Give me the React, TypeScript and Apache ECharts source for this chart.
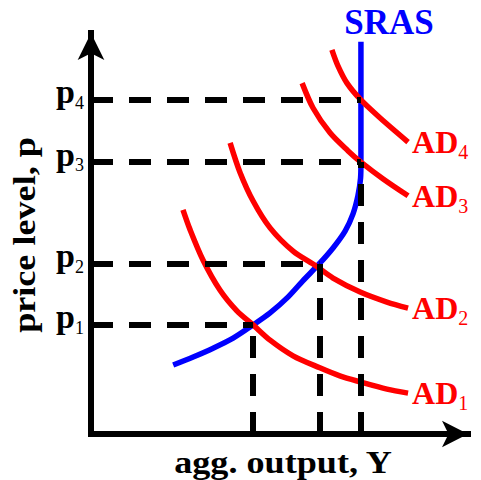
import React, { useEffect, useRef } from 'react';
import * as echarts from 'echarts';

const FONT = "Liberation Serif, Times New Roman, serif";
const RED = '#ff0000';
const BLUE = '#0000ff';

// Axis units: aggregate output (x) and price level (y), both 0–100
const srasX = [21.8, 27.1, 32.4, 37.7, 43.0, 47.5, 52.3, 56.2, 60.5, 64.2, 67.4, 69.5, 70.8, 71.5, 71.6, 71.6];
const srasY = [17.2, 19.2, 21.4, 23.9, 27.2, 30.2, 34.2, 38.2, 42.4, 46.4, 50.6, 54.9, 59.4, 63.8, 67.6, 97.8];

const ad1X = [24.4, 26.3, 29.7, 34.2, 38.7, 43.0, 47.5, 53.6, 60.7, 66.0, 71.4, 78.5, 84.1];
const ad1Y = [55.9, 50.9, 43.4, 35.9, 30.7, 27.2, 23.4, 19.5, 16.5, 14.5, 13.0, 11.2, 10.2];

const ad2X = [36.9, 39.5, 43.0, 47.5, 53.6, 59.7, 64.2, 71.4, 78.5, 84.1];
const ad2Y = [72.6, 65.3, 58.1, 51.4, 45.6, 41.9, 38.9, 35.4, 32.9, 31.4];

const ad3X = [56.0, 58.9, 63.4, 68.2, 71.6, 77.5, 84.1];
const ad3Y = [87.5, 81.3, 75.1, 70.6, 67.8, 63.6, 59.4];

const ad4X = [63.9, 65.5, 67.9, 71.6, 76.7, 84.1];
const ad4Y = [95.8, 91.8, 87.5, 83.3, 78.8, 72.8];

// Equilibria
const priceLevels = [27.2, 42.4, 67.8, 83.3];
const priceSubs = ['1', '2', '3', '4'];
const priceLineEnds = [43.0, 60.6, 71.6, 71.6];
const outputLevels = [43.0, 60.6, 71.6];
const outputTops = [27.2, 42.4, 67.8];

const adNames = ['1', '2', '3', '4'];

const zip = (xs: number[], ys: number[]) => xs.map((x, i) => [x, ys[i]]);

export default function App() {
  const ref = useRef<HTMLDivElement>(null);

  useEffect(() => {
    if (!ref.current) return;
    const chart = echarts.init(ref.current, null, { renderer: 'svg' });

    const dash = { color: '#000', width: 6, type: [22, 16] as any };

    const hLines = priceLevels.map((p, i) => [
      {
        coord: [0, p],
        label: {
          show: true,
          position: 'start',
          distance: 7,
          padding: [0, 0, 16, 0],
          formatter: `{m|p}{s|${priceSubs[i]}}`,
          rich: {
            m: { fontFamily: FONT, fontWeight: 'bold', fontSize: 34, lineHeight: 40, color: '#000' },
            s: { fontFamily: FONT, fontWeight: 'normal', fontSize: 18, lineHeight: 18, verticalAlign: 'bottom', color: '#000' },
          },
        },
      },
      { coord: [priceLineEnds[i], p] },
    ]);
    const vLines = outputLevels.map((x, i) => [{ coord: [x, 0] }, { coord: [x, outputTops[i]] }]);

    const adSeries = [zip(ad1X, ad1Y), zip(ad2X, ad2Y), zip(ad3X, ad3Y), zip(ad4X, ad4Y)].map((d, i) => ({
      type: 'line',
      name: 'AD' + adNames[i],
      data: d,
      smooth: 0.3,
      symbol: 'none',
      z: 3,
      lineStyle: { color: RED, width: 5.5 },
      endLabel: {
        show: true,
        distance: 4,
        formatter: `{m|AD}{s|${adNames[i]}}`,
        rich: {
          m: { fontFamily: FONT, fontWeight: 'bold', fontSize: 32, lineHeight: 40, color: RED },
          s: { fontFamily: FONT, fontWeight: 'normal', fontSize: 20, lineHeight: 20, verticalAlign: 'bottom', color: RED },
        },
      },
    }));

    chart.setOption({
      animation: false,
      grid: { left: 91, right: 13, top: 33, bottom: 46 },
      xAxis: {
        type: 'value', min: 0, max: 100,
        axisLine: { show: true, symbol: ['none', 'arrow'], symbolSize: [20, 26], lineStyle: { color: '#000', width: 6, cap: 'square' } },
        axisTick: { show: false }, axisLabel: { show: false }, splitLine: { show: false },
      },
      yAxis: {
        type: 'value', min: 0, max: 100,
        axisLine: { show: true, symbol: ['none', 'arrow'], symbolSize: [20, 27], lineStyle: { color: '#000', width: 6, cap: 'square' } },
        axisTick: { show: false }, axisLabel: { show: false }, splitLine: { show: false },
      },
      graphic: [
        {
          type: 'text', x: 283, y: 462, scaleX: 1.13,
          style: { text: 'agg. output, Y', fontFamily: FONT, fontWeight: 'bold', fontSize: 32, fill: '#000', align: 'center', verticalAlign: 'middle', textAlign: 'center', textVerticalAlign: 'middle' },
        },
        {
          type: 'text', x: 24, y: 235, rotation: Math.PI / 2, scaleX: 1.13,
          style: { text: 'price level, p', fontFamily: FONT, fontWeight: 'bold', fontSize: 32, fill: '#000', align: 'center', verticalAlign: 'middle', textAlign: 'center', textVerticalAlign: 'middle' },
        },
      ],
      series: [
        {
          type: 'line',
          name: 'guides',
          data: [],
          z: 1,
          markLine: {
            silent: true,
            animation: false,
            symbol: ['none', 'none'],
            lineStyle: dash,
            label: { show: false },
            data: [...hLines, ...vLines],
          },
        },
        {
          type: 'line',
          name: 'SRAS',
          data: zip(srasX, srasY),
          smooth: 0.3,
          symbol: 'none',
          z: 2,
          lineStyle: { color: BLUE, width: 5.5 },
          markPoint: {
            silent: true,
            animation: false,
            symbol: 'circle',
            symbolSize: 2,
            itemStyle: { color: 'rgba(0,0,0,0)' },
            data: [
              {
                coord: [srasX[srasX.length - 1], srasY[srasY.length - 1]],
                label: {
                  show: true, position: 'top', distance: 0, offset: [28, -1], formatter: 'SRAS',
                  fontFamily: FONT, fontWeight: 'bold', fontSize: 35, lineHeight: 35, color: BLUE,
                },
              },
            ],
          },
        },
        ...adSeries,
      ],
    });

    return () => chart.dispose();
  }, []);

  return <div ref={ref} style={{ position: 'fixed', left: 0, top: 0, width: 481, height: 480, background: '#fff' }} />;
}
